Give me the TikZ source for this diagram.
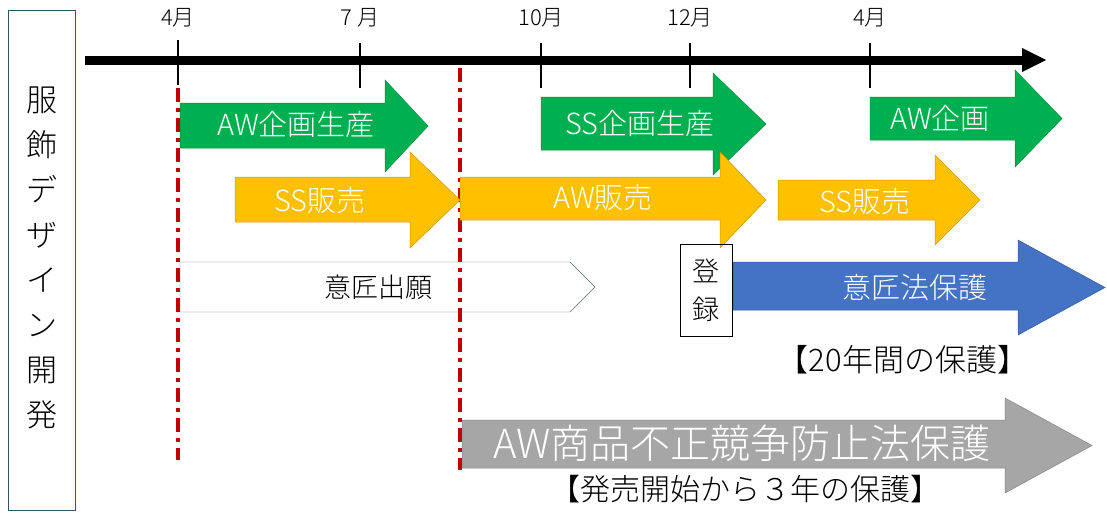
\documentclass[tikz,border=0pt]{standalone}
\usepackage{fontspec}
\setmainfont{Noto Sans CJK JP Light}
\begin{document}
\begin{tikzpicture}[x=1pt,y=-1pt,
  lbl/.style={font=\fontsize{29}{32}\selectfont,text=white,inner sep=0},
  blk/.style={font=\fontsize{27}{30}\selectfont,text=black,inner sep=0},
  mon/.style={font=\fontsize{22}{24}\selectfont,inner sep=0},
  red/.style={draw={rgb,255:red,192;green,0;blue,0},line width=3.5pt,dash pattern=on 14pt off 6pt on 4pt off 6pt}]
\definecolor{grn}{RGB}{0,176,80}
\definecolor{ylw}{RGB}{255,192,0}
\definecolor{blu}{RGB}{68,114,196}
\definecolor{gry}{RGB}{166,166,166}
\useasboundingbox (0,0) rectangle (1107,523);
\fill[white] (0,0) rectangle (1107,523);
% left box
\draw[draw={rgb,255:red,47;green,84;blue,100}] (8,10) rectangle (75,510);
\node[blk,align=center,font=\fontsize{31}{45}\selectfont] (side) at (42,258) {服\\飾\\デ\\ザ\\イ\\ン\\開\\発};
% red lines
\coordinate (r1a) at (178,88); \coordinate (r1b) at (178,460);
\coordinate (r2a) at (460,68); \coordinate (r2b) at (460,470);
\draw[red] (r1a) -- (r1b);
\draw[red] (r2a) -- (r2b);
% timeline
\coordinate (ts) at (85,60); \coordinate (te) at (1045,60);
\draw[line width=9pt] (ts) -- (1025,60);
\fill (1022,48) -- (1046,60) -- (1022,72) -- cycle;
\foreach \x/\ya/\yb/\t [count=\i] in {178/40/85/4月,360/43/88/7 月,541/43/88/10月,690/43/88/12月,870/43/88/4月}{
  \draw[line width=2.5pt] (\x,\ya) -- (\x,\yb);
  \node[mon] (m\i) at (\x,18) {\t};
}
% arrows
\newcommand\myarrow[8]{% color, x0, y0, y1, xh, hy0, hy1, xt
  \filldraw[fill=#1,draw=#1!80!black,line width=0.5pt] (#2,#3) -- (#5,#3) -- (#5,#6) -- (#8,{(#6+#7)/2}) -- (#5,#7) -- (#5,#4) -- (#2,#4) -- cycle;}
\myarrow{grn}{180}{103}{148}{385}{80}{172}{428}
\myarrow{ylw}{235}{177}{222}{410}{152}{248}{460}
\myarrow{grn}{541}{97}{150}{713}{73}{175}{766}
\myarrow{ylw}{460}{177}{220}{720}{152}{248}{766}
\myarrow{grn}{870}{97}{140}{1015}{70}{167}{1062}
\myarrow{ylw}{778}{180}{220}{935}{155}{245}{980}
\myarrow{blu}{733}{262}{310}{1018}{240}{335}{1105}
\myarrow{gry}{462}{420}{468}{1005}{398}{493}{1092}
\draw[draw={rgb,255:red,90;green,110;blue,120}] (180,262) -- (570,262) -- (595,287) -- (570,312) -- (180,312) -- cycle;
\node[lbl] (t1) at (296,124) {AW企画生産};
\node[lbl] (t2) at (320,200) {SS販売};
\node[lbl] (t3) at (640,123) {SS企画生産};
\node[lbl] (t4) at (603,197) {AW販売};
\node[lbl] (t5) at (940,118) {AW企画};
\node[lbl] (t6) at (865,201) {SS販売};
\node[lbl] (t7) at (915,287) {意匠法保護};
\node[blk] (t8) at (378,287) {意匠出願};
\node[lbl,font=\fontsize{40}{44}\selectfont] (t9) at (742,443) {AW商品不正競争防止法保護};
\draw (680,244) rectangle (732,336);
\node[blk,align=center,font=\fontsize{27}{38}\selectfont] (reg) at (706,290) {登\\録};
\node[blk,font=\fontsize{31}{34}\selectfont] (n1) at (903,360) {【20年間の保護】};
\node[blk,font=\fontsize{30}{34}\selectfont] (n2) at (745,489) {【発売開始から３年の保護】};
\end{tikzpicture}
\end{document}
